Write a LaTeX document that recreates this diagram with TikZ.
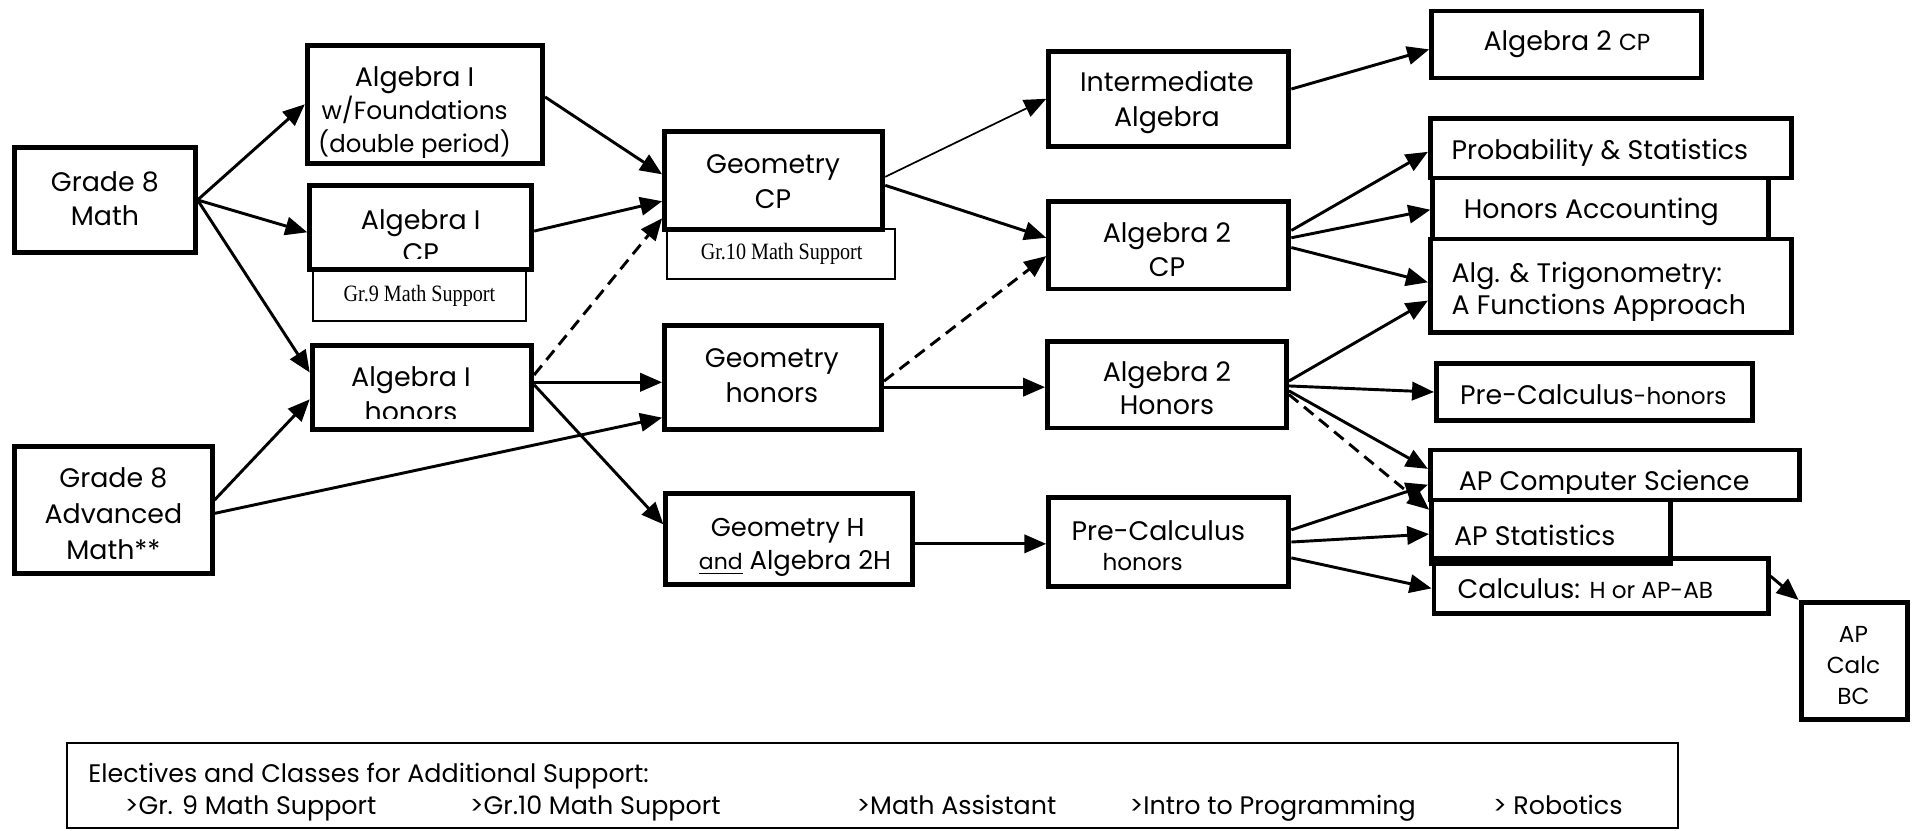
\documentclass[tikz,border=0pt]{standalone}
\usepackage{fontspec}
\setmainfont{Poppins}
\newfontfamily\seriffont[FakeStretch=0.86]{Liberation Serif}
\usetikzlibrary{arrows.meta,calc,fit}
\begin{document}
\begin{tikzpicture}[x=0.5pt,y=-0.5pt,
  box/.style={draw,line width=2pt,inner sep=0pt},
  thinbox/.style={draw,line width=0.8pt,inner sep=0pt},
  txt/.style={anchor=base,inner sep=0pt,font=\fontsize{11}{13}\selectfont},
  ltxt/.style={anchor=base west,inner sep=0pt,font=\fontsize{11}{13}\selectfont},
  small/.style={font=\fontsize{9.5}{11}\selectfont},
  etxt/.style={anchor=base west,inner sep=0pt,font=\fontsize{10.4}{12}\selectfont},
  sup/.style={anchor=base,inner sep=0pt,font=\seriffont\fontsize{9.6}{11}\selectfont},
  arr/.style={line width=1.2pt,-{Triangle[length=9pt,width=7.5pt]}},
  thinarr/.style={line width=0.7pt,-{Triangle[length=9pt,width=7.5pt]}},
  dasharr/.style={arr,dash pattern=on 5pt off 3pt}]
\useasboundingbox (0,0) rectangle (1568,681);

% ---------- texts (drawn first, some clipped) ----------
\node[txt] (t-g8m1) at (86,157) {Grade 8};
\node[txt] (t-g8m2) at (86,185) {Math};
\begin{scope}
\clip (252,37) rectangle (445,129);
\node[txt] (t-alf1) at (340,71) {Algebra I};
\node[txt,font=\fontsize{10.2}{12}\selectfont] (t-alf2) at (340,98) {w/Foundations};
\node[txt,font=\fontsize{10}{12}\selectfont] (t-alf3) at (340,125) {(double period)};
\end{scope}
\begin{scope}
\clip (254,152) rectangle (436,212);
\node[txt] (t-alcp1) at (345,188) {Algebra I};
\node[txt] (t-alcp2) at (345,215) {CP};
\end{scope}
\begin{scope}
\clip (256,283) rectangle (436,343);
\node[txt] (t-alh1) at (337,317) {Algebra I};
\node[txt] (t-alh2) at (337,346) {honors};
\end{scope}
\node[txt] (t-g8a1) at (93,400) {Grade 8};
\node[txt] (t-g8a2) at (93,429) {Advanced};
\node[txt] (t-g8a3) at (93,459) {Math**};
\node[txt] (t-gcp1) at (634,142) {Geometry};
\node[txt] (t-gcp2) at (634,171) {CP};
\node[txt] (t-gh1) at (633,301) {Geometry};
\node[txt] (t-gh2) at (633,330) {honors};
\node[txt,font=\fontsize{10.6}{12}\selectfont] (t-geh1) at (646,440) {Geometry H};
\node[txt,font=\fontsize{10.6}{12}\selectfont] (t-geh2) at (652,467) {{\fontsize{9}{10}\selectfont\underline{and}} Algebra 2H};
\node[txt] (t-ia1) at (957,75) {Intermediate};
\node[txt] (t-ia2) at (957,104) {Algebra};
\node[txt] (t-a2c1) at (957,199) {Algebra 2};
\node[txt] (t-a2c2) at (957,227) {CP};
\node[txt] (t-a2h1) at (957,313) {Algebra 2};
\node[txt] (t-a2h2) at (957,340) {Honors};
\node[txt] (t-pc1) at (950,443) {Pre-Calculus};
\node[txt,small] (t-pc2) at (937,468) {honors};
\node[txt] (t-a2t) at (1285,41) {Algebra 2 {\fontsize{9.5}{11}\selectfont CP}};
\node[ltxt] (t-prob) at (1190,131) {Probability \& Statistics};
\node[ltxt] (t-hacc) at (1200,179) {Honors Accounting};
\node[ltxt] (t-trig1) at (1190,232) {Alg. \& Trigonometry:};
\node[ltxt] (t-trig2) at (1190,258) {A Functions Approach};
\node[ltxt] (t-pch) at (1197,332) {Pre-Calculus{\fontsize{9.5}{11}\selectfont -honors}};
\begin{scope}
\clip (1173,369) rectangle (1476,405);
\node[ltxt] (t-apcs) at (1196,402) {AP Computer Science};
\end{scope}
\begin{scope}
\clip (1174,410) rectangle (1370,451);
\node[ltxt] (t-apst) at (1192,447) {AP Statistics};
\end{scope}
\node[ltxt] (t-calc) at (1195,491) {Calculus: {\fontsize{9.5}{11}\selectfont H or AP-AB}};
\node[txt,small] (t-bc1) at (1520,527) {AP};
\node[txt,small] (t-bc2) at (1520,552) {Calc};
\node[txt,small] (t-bc3) at (1520,578) {BC};
\node[sup] (t-s9) at (344,247) {Gr.9 Math Support};
\node[sup] (t-s10) at (641,213) {Gr.10 Math Support};

% ---------- boxes ----------
\node[box,fit={(12,121)(160,207)}] (g8m) {};
\node[box,fit={(252,37)(445,134)}] (alf) {};
\node[box,fit={(254,152)(436,221)}] (alcp) {};
\node[thinbox,fit={(257,221)(431,263)}] (s9) {};
\node[box,fit={(256,283)(436,352)}] (alh) {};
\node[box,fit={(12,366)(174,470)}] (g8a) {};
\node[box,fit={(545,108)(724,188)}] (gcp) {};
\node[thinbox,fit={(547,188)(734,229)}] (s10) {};
\node[box,fit={(545,267)(723,352)}] (ghon) {};
\node[box,fit={(546,405)(748,479)}] (gh) {};
\node[box,fit={(860,42)(1057,120)}] (ia) {};
\node[box,fit={(860,165)(1057,237)}] (a2cp) {};
\node[box,fit={(859,280)(1055,351)}] (a2h) {};
\node[box,fit={(860,408)(1057,481)}] (pc) {};
\node[box,fit={(1174,9)(1395,64)}] (a2t) {};
\node[box,fit={(1173,97)(1469,146)}] (prob) {};
\node[box,fit={(1175,146)(1450,196)}] (hacc) {};
\node[box,fit={(1173,196)(1469,273)}] (trig) {};
\node[box,fit={(1178,298)(1437,345)}] (pch) {};
\node[box,fit={(1173,369)(1476,410)}] (apcs) {};
\node[box,fit={(1174,410)(1370,462)}] (apst) {};
\node[box,fit={(1176,458)(1450,503)}] (calc) {};
\node[box,fit={(1477,494)(1564,590)}] (bc) {};
\node[thinbox,fit={(55,609)(1376,679)}] (elec) {};

% ---------- electives text ----------
\node[etxt] (e0) at (72,642) {Electives and Classes for Additional Support:};
\node[etxt] (e1) at (102,668) {>Gr. 9 Math Support};
\node[etxt] (e2) at (385,668) {>Gr.10 Math Support};
\node[etxt] (e3) at (702,668) {>Math Assistant};
\node[etxt] (e4) at (926,668) {>Intro to Programming};
\node[etxt] (e5) at (1224,668) {> Robotics};

% ---------- connectors ----------
\draw[arr] (g8m.east) -- (alf.west);
\draw[arr] (g8m.east) -- ($(alcp.west)+(0,4)$);
\draw[arr] (g8m.east) -- ($(alh.west)+(0,-12)$);
\draw[arr] ($(g8a.east)+(0,-8)$) -- ($(alh.west)+(0,10)$);
\draw[arr] ($(g8a.east)+(0,3)$) -- ($(ghon.west)+(0,33)$);
\draw[arr] ($(alf.east)+(0,-6)$) -- ($(gcp.west)+(0,-5)$);
\draw[arr] ($(alcp.east)+(0,3)$) -- ($(gcp.west)+(0,17)$);
\draw[dasharr] ($(alh.east)+(0,-10)$) -- ($(gcp.west)+(0,31)$);
\draw[arr] ($(alh.east)+(0,-4)$) -- ($(ghon.west)+(0,4)$);
\draw[arr] ($(alh.east)+(0,-2)$) -- ($(gh.west)+(0,-12)$);
\draw[thinarr] ($(gcp.east)+(0,-3)$) -- (ia.west);
\draw[arr] ($(gcp.east)+(0,4)$) -- ($(a2cp.west)+(0,-6)$);
\draw[dasharr] ($(ghon.east)+(0,3)$) -- ($(a2cp.west)+(0,9)$);
\draw[arr] ($(ghon.east)+(0,8)$) -- ($(a2h.west)+(0,2)$);
\draw[arr] ($(gh.east)+(0,4)$) -- ($(pc.west)+(0,1.5)$);
\draw[arr] ($(ia.east)+(0,-8)$) -- ($(a2t.west)+(0,4)$);
\draw[arr] ($(a2cp.east)+(0,-12)$) -- ($(prob.west)+(0,3)$);
\draw[arr] ($(a2cp.east)+(0,-6)$) -- ($(hacc.west)+(0,1)$);
\draw[arr] ($(a2cp.east)+(0,2)$) -- ($(trig.west)+(0,-3)$);
\draw[arr] ($(a2h.east)+(0,-3)$) -- ($(trig.west)+(0,12)$);
\draw[arr] ($(a2h.east)+(0,1)$) -- (pch.west);
\draw[arr] ($(a2h.east)+(0,5)$) -- ($(apcs.west)+(0,-5)$);
\draw[dasharr] ($(a2h.east)+(0,8)$) -- ($(apst.west)+(0,-18)$);
\draw[arr] ($(pc.east)+(0,-10)$) -- ($(apcs.west)+(0,8)$);
\draw[arr] (pc.east) -- ($(apst.west)+(0,2)$);
\draw[arr] ($(pc.east)+(0,13)$) -- ($(calc.west)+(0,2)$);
\draw[arr] ($(calc.east)+(0,-8)$) -- (bc.north west);
\end{tikzpicture}
\end{document}
